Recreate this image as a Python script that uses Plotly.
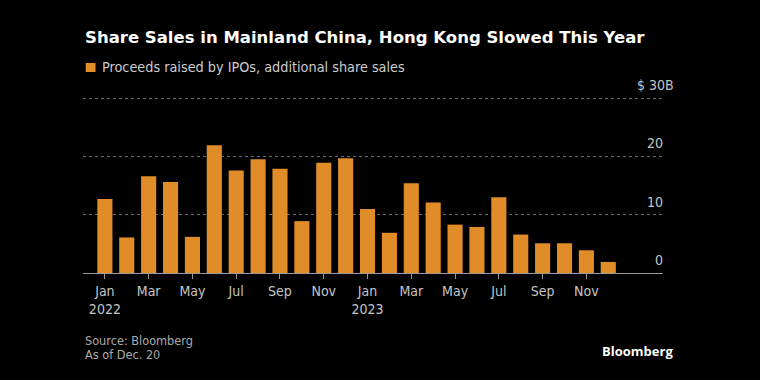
import plotly.graph_objects as go

# ---- data ----
months = ["2022-01", "2022-02", "2022-03", "2022-04", "2022-05", "2022-06",
          "2022-07", "2022-08", "2022-09", "2022-10", "2022-11", "2022-12",
          "2023-01", "2023-02", "2023-03", "2023-04", "2023-05", "2023-06",
          "2023-07", "2023-08", "2023-09", "2023-10", "2023-11", "2023-12"]
proceeds = [12.7, 6.1, 16.6, 15.6, 6.2, 21.9, 17.6, 19.5, 17.9, 8.9, 18.9, 19.7,
            11.0, 6.9, 15.4, 12.1, 8.3, 7.9, 13.0, 6.6, 5.1, 5.1, 3.9, 1.9]
series_name = "Proceeds raised by IPOs, additional share sales"
xtick_vals = ["2022-01", "2022-03", "2022-05", "2022-07", "2022-09", "2022-11",
              "2023-01", "2023-03", "2023-05", "2023-07", "2023-09", "2023-11"]
xtick_text = ["Jan<br>2022", "Mar", "May", "Jul", "Sep", "Nov",
              "Jan<br>2023", "Mar", "May", "Jul", "Sep", "Nov"]
ytick_vals = [0, 10, 20, 30]
ytick_text = ["0", "10", "20", "$ 30B"]
title = "Share Sales in Mainland China, Hong Kong Slowed This Year"
source = "Source: Bloomberg"
note = "As of Dec. 20"

# ---- layout constants ----
W, H = 760, 380
L, R, T, B = 83, 97, 97, 107
PW, PH = W - L - R, H - T - B
BAR = "#E08D29"
FONT = "DejaVu Sans Condensed, DejaVu Sans, sans-serif"


def px(x):
    return (x - L) / PW


def py(y):
    return (H - B - y) / PH


fig = go.Figure()
fig.add_trace(go.Bar(x=months, y=proceeds, name=series_name,
                     marker=dict(color=BAR, line=dict(width=0)),
                     width=0.69, showlegend=False))

ann = []
# title
ann.append(dict(text="<b>%s</b>" % title, x=px(83), y=py(37), xref="paper", yref="paper",
                xanchor="left", yanchor="middle", showarrow=False,
                font=dict(family="DejaVu Sans, sans-serif", size=16.5, color="#ffffff")))
# legend
ann.append(dict(text=series_name, x=px(100), y=py(67.5), xref="paper", yref="paper",
                xanchor="left", yanchor="middle", showarrow=False,
                font=dict(family=FONT, size=14.3, color="#cccccc")))
# source / note
ann.append(dict(text=source, x=px(83), y=py(340), xref="paper", yref="paper",
                xanchor="left", yanchor="middle",
                showarrow=False, font=dict(family=FONT, size=12.6, color="#aaaaaa")))
ann.append(dict(text=note, x=px(83), y=py(354), xref="paper", yref="paper",
                xanchor="left", yanchor="middle",
                showarrow=False, font=dict(family=FONT, size=12.6, color="#aaaaaa")))
# logo
ann.append(dict(text="<b>Bloomberg</b>", x=px(675), y=py(351), xref="paper", yref="paper",
                xanchor="right", yanchor="middle", showarrow=False,
                font=dict(family="Open Sans, sans-serif", size=13, color="#ffffff")))
# y tick labels
for v, t in zip(ytick_vals, ytick_text):
    right = 676 if t.endswith("B") else 665
    ann.append(dict(text=t, x=px(right), xref="paper", y=v, yref="y",
                    xanchor="right", yanchor="middle", yshift=13, showarrow=False,
                    font=dict(family=FONT, size=14, color="#c4c4c4")))

shapes = [dict(type="rect", xref="paper", yref="paper",
               x0=px(85.7), x1=px(95.5), y0=py(72), y1=py(63),
               fillcolor=BAR, line=dict(width=0))]

fig.update_layout(
    width=W, height=H,
    margin=dict(l=L, r=R, t=T, b=B, pad=0),
    paper_bgcolor="#000000", plot_bgcolor="#000000",
    bargap=0.31,
    annotations=ann, shapes=shapes,
    showlegend=False,
    xaxis=dict(type="category", categoryorder="array", categoryarray=months,
               range=[-1.0, 25.5], tickmode="array", tickvals=xtick_vals,
               ticktext=xtick_text, ticks="outside", ticklen=5, tickwidth=1,
               tickcolor="#999999", showline=True, linecolor="#999999",
               linewidth=1, showgrid=False, zeroline=False,
               tickfont=dict(family=FONT, size=14, color="#c4c4c4")),
    yaxis=dict(range=[0, 30.2], tickvals=[10, 20, 30], showticklabels=False,
               showgrid=True, gridcolor="#6a6a6a", griddash="dot", gridwidth=1,
               zeroline=False, showline=False, fixedrange=True),
)

fig.write_html("out.html", config={"displayModeBar": False},
               post_script="document.body.style.margin='0';document.body.style.background='#000';")
